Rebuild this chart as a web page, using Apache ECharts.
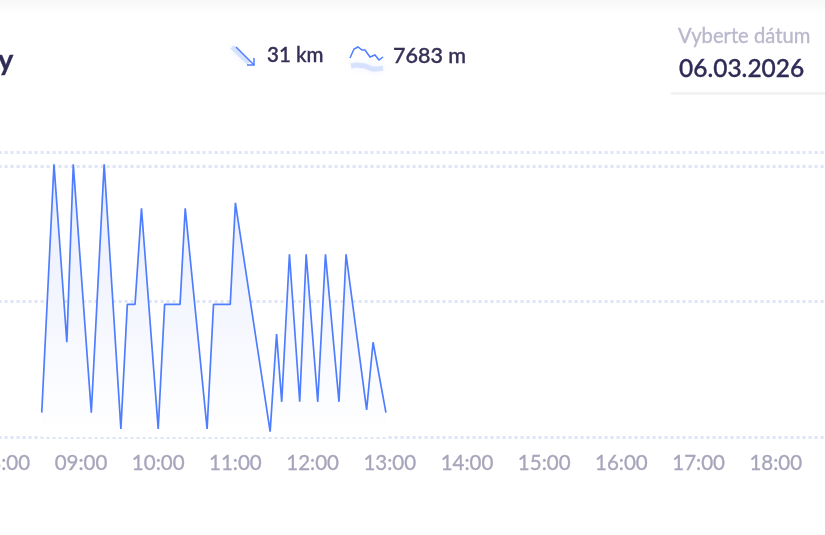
<!DOCTYPE html>
<html>
<head>
    <title>Chart</title>
    <script src="https://cdn.jsdelivr.net/npm/echarts@6/dist/echarts.min.js"></script>
    <style>
        body { margin: 0; background: #fff; overflow: hidden; }
        #chart { width: 825px; height: 535px; }
    </style>
</head>
<body>
    <div id="chart"></div>
    <script>
        // time of day in minutes
        const minutes = [509.5, 519, 529, 534, 548, 558, 571, 576, 582, 587, 600, 605, 617, 621, 638, 643, 656, 660, 687, 692, 696, 702, 710, 715, 724, 730, 740.5, 746, 762, 767, 777];
        const heights = [18, 201.5, 70, 201.5, 18, 201.5, 6, 98, 98, 169, 6, 98, 98, 169, 6, 98, 98, 173, 4, 76, 26, 135, 26, 135, 26, 135, 26, 135, 20, 70, 18];
        const yTop = 210.6;

        const font = 'Lato';
        const ink = '#2f2b57';
        const blue = '#4f7dff';

        function hhmm(v) {
            const h = Math.floor(v / 60);
            return (h < 10 ? '0' : '') + h + ':00';
        }

        // thin text border to get the heavier weight of the original font
        function label(x, y, text, size, color, weight) {
            return { type: 'text', x: x, y: y, silent: true,
                style: { text: text, fontFamily: font, fontSize: size, fontWeight: weight || 500, fill: color,
                    stroke: color, lineWidth: 0.35 } };
        }

        function stroke(points, color, width, blur) {
            const el = { type: 'polyline', silent: true,
                shape: { points: points },
                style: { stroke: color, lineWidth: width, fill: null } };
            if (blur) {
                el.style.shadowBlur = blur;
                el.style.shadowColor = color;
            }
            return el;
        }

        const chart = echarts.init(document.getElementById('chart'));
        chart.setOption({
            animation: false,
            backgroundColor: '#fff',
            grid: { left: -73.4, right: -28, top: 152, bottom: 98, outerBoundsMode: 'none' },
            xAxis: {
                type: 'value', min: 420, max: 1140, interval: 60,
                axisLine: { show: false },
                axisTick: { show: false },
                splitLine: { show: false },
                axisLabel: { color: '#a6a5bb', fontFamily: font, fontSize: 20.5, margin: 16, formatter: hhmm,
                    textBorderColor: '#a6a5bb', textBorderWidth: 0.3 }
            },
            yAxis: {
                type: 'value', min: 0, max: yTop, interval: 100,
                axisLine: { show: false },
                axisTick: { show: false },
                axisLabel: { show: false },
                splitLine: { lineStyle: { color: '#dfe4f8', width: 3, type: [3, 3] } }
            },
            series: [{
                type: 'line',
                data: minutes.map((m, i) => [m, heights[i]]),
                showSymbol: false,
                lineStyle: { color: blue, width: 1.7 },
                areaStyle: {
                    opacity: 1,
                    color: new echarts.graphic.LinearGradient(0, 0, 0, 1, [
                        { offset: 0, color: '#e8edfd' },
                        { offset: 1, color: '#ffffff' }
                    ])
                }
            }],
            graphic: [
                { type: 'rect', silent: true, shape: { x: 0, y: 0, width: 825, height: 14 },
                  style: { fill: new echarts.graphic.LinearGradient(0, 0, 0, 1, [
                      { offset: 0, color: '#f7f7f7' }, { offset: 1, color: '#ffffff' }]) } },
                label(-2, 46, 'y', 29, ink, 700),
                stroke([[232, 47], [249, 63]], 'rgba(190,208,252,0.55)', 5, 6),
                stroke([[236, 47], [254, 65]], blue, 1.5),
                stroke([[254, 58], [254, 65], [247, 65]], blue, 1.5),
                label(267, 45, '31 km', 20.5, '#352f55'),
                stroke([[351, 66], [356, 65], [365, 66], [372, 69], [378, 69], [383, 68]], 'rgba(190,208,252,0.55)', 5, 6),
                stroke([[350, 58], [354, 49], [358, 47], [362, 50], [365, 50], [370, 57], [375, 55], [379, 60], [383, 57]], blue, 1.5),
                label(393, 45, '7683 m', 21.5, '#352f55'),
                label(678, 26, 'Vyberte dátum', 20.2, '#b9b8cc', 400),
                label(679, 57, '06.03.2026', 24.5, ink),
                { type: 'rect', silent: true, shape: { x: 671, y: 92, width: 154, height: 3 }, style: { fill: '#f3f3f4' } }
            ]
        });
    </script>
</body>
</html>
